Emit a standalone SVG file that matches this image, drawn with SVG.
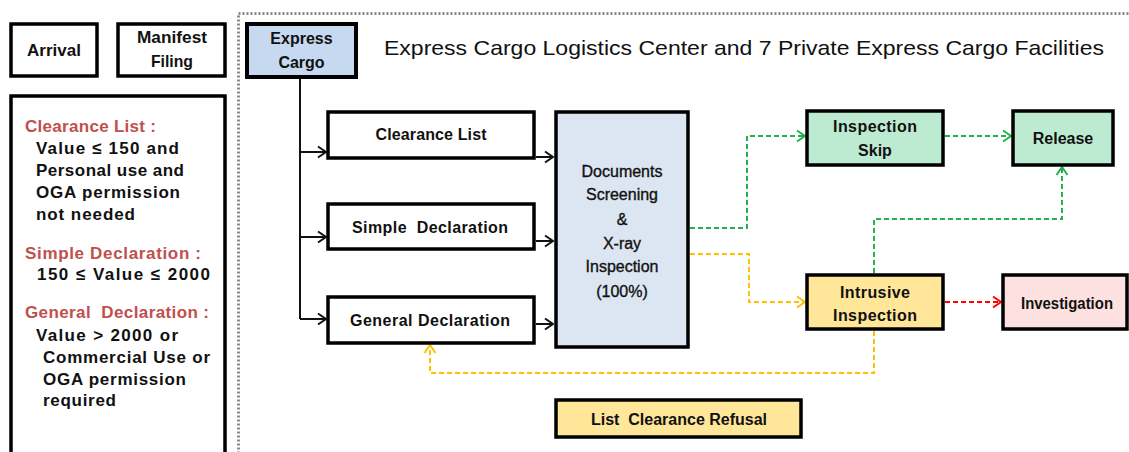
<svg xmlns="http://www.w3.org/2000/svg" width="1129" height="452" viewBox="0 0 1129 452">
<style>
  .box{stroke:#000;stroke-width:3.5;}
  .t{font-family:"Liberation Sans",Arial,sans-serif;font-weight:bold;font-size:16px;fill:#111;text-anchor:middle;}
  .c{font-family:"Liberation Sans",Arial,sans-serif;font-weight:bold;font-size:17px;fill:#111;}
  .red{fill:#c0504d;}
  .doc{font-family:"Liberation Sans",Arial,sans-serif;font-size:16px;fill:#111;stroke:#111;stroke-width:0.35;text-anchor:middle;}
  .title{font-family:"Liberation Sans",Arial,sans-serif;font-size:21px;fill:#111;}
  .ln{fill:none;stroke:#111;stroke-width:2;}
  .dg{fill:none;stroke:#22b14c;stroke-width:2;stroke-dasharray:5 3;}
  .do{fill:none;stroke:#ffc000;stroke-width:2;stroke-dasharray:5 3;}
  .dr{fill:none;stroke:#ff0000;stroke-width:2;stroke-dasharray:5 3;}
</style>
<defs>
  <marker id="ab" markerUnits="userSpaceOnUse" markerWidth="12" markerHeight="14" refX="10" refY="7" orient="auto"><path d="M2,1.5 L10,7 L2,12.5" fill="none" stroke="#111" stroke-width="2"/></marker>
  <marker id="ag" markerUnits="userSpaceOnUse" markerWidth="12" markerHeight="14" refX="10" refY="7" orient="auto"><path d="M2,1.5 L10,7 L2,12.5" fill="none" stroke="#22b14c" stroke-width="2"/></marker>
  <marker id="ao" markerUnits="userSpaceOnUse" markerWidth="12" markerHeight="14" refX="10" refY="7" orient="auto"><path d="M2,1.5 L10,7 L2,12.5" fill="none" stroke="#ffc000" stroke-width="2"/></marker>
  <marker id="ar" markerUnits="userSpaceOnUse" markerWidth="12" markerHeight="14" refX="10" refY="7" orient="auto"><path d="M2,1.5 L10,7 L2,12.5" fill="none" stroke="#ff0000" stroke-width="2"/></marker>
</defs>
<rect width="1129" height="452" fill="#fff"/>
<rect x="238.5" y="13.5" width="1000" height="500" fill="none" stroke="#8a8a8a" stroke-width="3" stroke-dasharray="2 2"/>
<text class="title" x="384" y="55" textLength="720" lengthAdjust="spacingAndGlyphs">Express Cargo Logistics Center and 7 Private Express Cargo Facilities</text>

<g id="connectors">
  <path class="ln" d="M300,77 V319"/>
  <path class="ln" d="M300,152 H326" marker-end="url(#ab)"/>
  <path class="ln" d="M300,237 H326" marker-end="url(#ab)"/>
  <path class="ln" d="M300,319 H326" marker-end="url(#ab)"/>
  <path class="ln" d="M536,157 H553" marker-end="url(#ab)"/>
  <path class="ln" d="M536,241 H553" marker-end="url(#ab)"/>
  <path class="ln" d="M536,324 H553" marker-end="url(#ab)"/>
  <path class="dg" d="M690,228 H747 V136 H805" marker-end="url(#ag)"/>
  <path class="do" d="M690,254 H749 V302 H805" marker-end="url(#ao)"/>
  <path class="dg" d="M945,136 H1011" marker-end="url(#ag)"/>
  <path class="dg" d="M874,273 V219 H1062 V167" marker-end="url(#ag)"/>
  <path class="dr" d="M945,302 H1001" marker-end="url(#ar)"/>
  <path class="do" d="M874,331 V373 H430 V345" marker-end="url(#ao)"/>
</g>

<g id="arrival">
  <rect class="box" x="11" y="24" width="86" height="52" fill="#fff"/>
  <text class="c" x="54" y="56" text-anchor="middle">Arrival</text>
</g>
<g id="manifest">
  <rect class="box" x="118" y="24" width="107" height="52" fill="#fff"/>
  <text class="t" x="172" y="43" style="font-size:17px" textLength="70" lengthAdjust="spacingAndGlyphs">Manifest</text>
  <text class="t" x="172" y="67" style="font-size:17px" textLength="42" lengthAdjust="spacingAndGlyphs">Filing</text>
</g>
<g id="criteria">
  <rect class="box" x="11" y="96" width="214" height="380" fill="#fff"/>
  <text class="c red" x="25" y="132" textLength="131">Clearance List :</text>
  <text class="c" x="36" y="154" textLength="143">Value ≤ 150 and</text>
  <text class="c" x="36" y="176" textLength="148">Personal use and</text>
  <text class="c" x="36" y="198" textLength="144">OGA permission</text>
  <text class="c" x="36" y="220" textLength="99">not needed</text>
  <text class="c red" x="25" y="259" textLength="176">Simple Declaration :</text>
  <text class="c" x="37" y="280" textLength="173">150 ≤ Value ≤ 2000</text>
  <text class="c red" x="25" y="318" xml:space="preserve" textLength="184">General  Declaration :</text>
  <text class="c" x="36" y="341" textLength="142">Value &gt; 2000 or</text>
  <text class="c" x="43" y="363" textLength="167">Commercial Use or</text>
  <text class="c" x="43" y="385" textLength="143">OGA permission</text>
  <text class="c" x="43" y="406" textLength="73">required</text>
</g>
<g id="express-cargo">
  <rect class="box" x="247" y="24" width="109" height="53" fill="#c6d9f1" style="stroke-width:4"/>
  <text class="t" x="301.5" y="44">Express</text>
  <text class="t" x="301.5" y="68">Cargo</text>
</g>
<g id="clearance-list">
  <rect class="box" x="328" y="112" width="206" height="46" fill="#fff"/>
  <text class="t" x="431" y="140" textLength="111">Clearance List</text>
</g>
<g id="simple-declaration">
  <rect class="box" x="328" y="204" width="206" height="45" fill="#fff"/>
  <text class="t" x="430" y="233" xml:space="preserve" textLength="156">Simple  Declaration</text>
</g>
<g id="general-declaration">
  <rect class="box" x="328" y="297" width="206" height="46" fill="#fff"/>
  <text class="t" x="430" y="326" textLength="160">General Declaration</text>
</g>
<g id="documents">
  <rect class="box" x="556" y="112" width="132" height="235" fill="#dce6f2"/>
  <text class="doc" x="622" y="177">Documents</text>
  <text class="doc" x="622" y="200">Screening</text>
  <text class="doc" x="622" y="225">&amp;</text>
  <text class="doc" x="622" y="249">X-ray</text>
  <text class="doc" x="622" y="272">Inspection</text>
  <text class="doc" x="622" y="297">(100%)</text>
</g>
<g id="inspection-skip">
  <rect class="box" x="807" y="111" width="136" height="54" fill="#bcebd2"/>
  <text class="t" x="875" y="132" textLength="84">Inspection</text>
  <text class="t" x="875" y="156">Skip</text>
</g>
<g id="release">
  <rect class="box" x="1013" y="111" width="100" height="54" fill="#bcebd2"/>
  <text class="t" x="1063" y="144">Release</text>
</g>
<g id="intrusive-inspection">
  <rect class="box" x="807" y="275" width="136" height="54" fill="#ffe699"/>
  <text class="t" x="875" y="298" textLength="70">Intrusive</text>
  <text class="t" x="875" y="321" textLength="84">Inspection</text>
</g>
<g id="investigation">
  <rect class="box" x="1003" y="275" width="124" height="54" fill="#fde0e0"/>
  <text class="t" x="1067" y="309" style="font-size:17px" textLength="92" lengthAdjust="spacingAndGlyphs">Investigation</text>
</g>
<g id="list-clearance-refusal">
  <rect class="box" x="556" y="400" width="245" height="37" fill="#ffe699"/>
  <text class="t" x="679" y="425" xml:space="preserve">List  Clearance Refusal</text>
</g>
</svg>
